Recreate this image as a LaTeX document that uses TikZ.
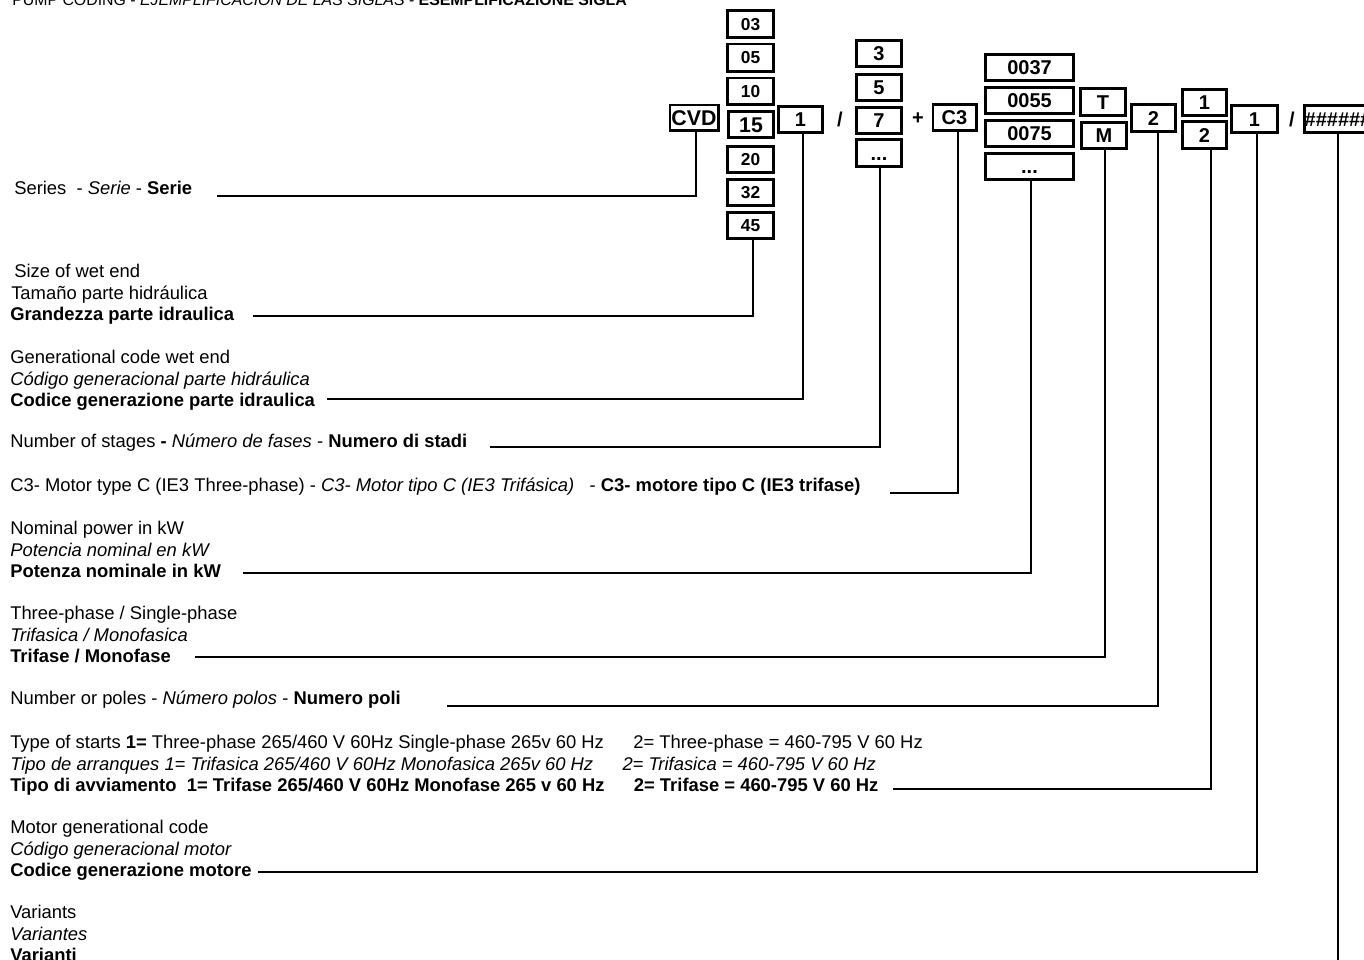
\documentclass[tikz,border=0pt]{standalone}
\usepackage{fontspec}
\setmainfont{Liberation Sans}
\usetikzlibrary{calc}
\tikzset{
  cbox/.style={draw, line width=2pt, inner sep=0pt, font=\bfseries\fontsize{15}{18}\selectfont, text height=10.75pt, text depth=0pt},
  smallbox/.style={cbox, font=\bfseries\fontsize{13}{15}\selectfont, text height=9.3pt},
  bigbox/.style={cbox, font=\bfseries\fontsize{16}{19}\selectfont, text height=11.5pt},
  bx/.style 2 args={minimum width=#1, minimum height=#2},
  sym/.style={inner sep=0pt, font=\bfseries\fontsize{15}{18}\selectfont},
  lbl/.style={anchor=base west, inner sep=0pt, font=\fontsize{13.8}{16}\selectfont},
  conn/.style={line width=1.9pt}
}
\begin{document}
\begin{tikzpicture}[x=0.75pt, y=-0.75pt]
\useasboundingbox (0,0) rectangle (1364,960);
% title (cut at the top)
\node[anchor=base west, inner sep=0pt, font=\fontsize{11.9}{14}\selectfont] (title) at (12,5)
  {PUMP CODING - \textit{EJEMPLIFICACION DE LAS SIGLAS} - \textbf{ESEMPLIFICAZIONE SIGLA}};
% code boxes
\node[smallbox, bx={34.75pt}{20.5pt}] (b03) at (750.5,24) {03};
\node[smallbox, bx={34.75pt}{20.5pt}] (b05) at (750.5,57.5) {05};
\node[smallbox, bx={34.75pt}{19.75pt}] (b10) at (750.5,91) {10};
\node[bigbox, bx={34pt}{19.75pt}] (b15) at (751,124.5) {15};
\node[smallbox, bx={34.75pt}{19.75pt}] (b20) at (750.5,159.5) {20};
\node[smallbox, bx={34.75pt}{19.75pt}] (b32) at (750.5,192.5) {32};
\node[smallbox, bx={34.75pt}{19.75pt}] (b45) at (750.5,225.5) {45};
\node[bigbox, bx={36.25pt}{19pt}] (cvd) at (694,117.5) {CVD};
\node[cbox, bx={33.25pt}{19.75pt}] (gen) at (800.5,119.5) {1};
\node[sym] (sl1) at (840,119) {/};
\node[cbox, bx={34pt}{19.75pt}] (s3) at (879,53.5) {3};
\node[cbox, bx={34pt}{19.75pt}] (s5) at (879,87.5) {5};
\node[cbox, bx={34pt}{19.75pt}] (s7) at (879,120.5) {7};
\node[cbox, bx={34pt}{20.5pt}] (sdots) at (879,153) {...};
\node[sym] (plus) at (918,119) {+};
\node[cbox, bx={32.5pt}{19.75pt}] (c3) at (954.5,117.5) {C3};
\node[cbox, bx={66.25pt}{19.75pt}] (p37) at (1029.5,67.5) {0037};
\node[cbox, bx={66.25pt}{19.75pt}] (p55) at (1029.5,100.5) {0055};
\node[cbox, bx={66.25pt}{19.75pt}] (p75) at (1029.5,133.5) {0075};
\node[cbox, bx={66.25pt}{19.75pt}] (pdots) at (1029.5,166.5) {...};
\node[cbox, bx={34pt}{20.5pt}] (pt) at (1103,102) {T};
\node[cbox, bx={34pt}{19.75pt}] (pm) at (1104,135.5) {M};
\node[cbox, bx={33.25pt}{20.5pt}] (poles) at (1153.5,118) {2};
\node[cbox, bx={33.25pt}{19.75pt}] (st1) at (1204.5,102.5) {1};
\node[cbox, bx={33.25pt}{20.5pt}] (st2) at (1204.5,135) {2};
\node[cbox, bx={34.75pt}{20.5pt}] (mg) at (1254.5,119) {1};
\node[sym] (sl2) at (1292,119) {/};
\node[cbox, bx={49.5pt}{20.5pt}] (var) at (1338,119) {\#\#\#\#\#\#};
% labels
\node[lbl] (lser) at (14,194.5) {Series\ \ - \textit{Serie} - \textbf{Serie}};
\node[lbl] (lsz1) at (14,277.5) {Size of wet end};
\node[lbl] (lsz2) at (11,299) {Tamaño parte hidráulica};
\node[lbl] (lsz3) at (10,320.5) {\textbf{Grandezza parte idraulica}};
\node[lbl] (lgn1) at (10,363.5) {Generational code wet end};
\node[lbl] (lgn2) at (10,385) {\textit{Código generacional parte hidráulica}};
\node[lbl] (lgn3) at (10,406.5) {\textbf{Codice generazione parte idraulica}};
\node[lbl] (lstg) at (10,447.5) {Number of stages \textbf{-} \textit{Número de fases} - \textbf{Numero di stadi}};
\node[lbl] (lc3) at (10,491.5) {C3- Motor type C (IE3 Three-phase) - \textit{C3- Motor tipo C (IE3 Trifásica)}\ \ \ - \textbf{C3- motore tipo C (IE3 trifase)}};
\node[lbl] (lnm1) at (10,534.5) {Nominal power in kW};
\node[lbl] (lnm2) at (10,556) {\textit{Potencia nominal en kW}};
\node[lbl] (lnm3) at (10,577.5) {\textbf{Potenza nominale in kW}};
\node[lbl] (lph1) at (10,619.5) {Three-phase / Single-phase};
\node[lbl] (lph2) at (10,641) {\textit{Trifasica / Monofasica}};
\node[lbl] (lph3) at (10,662.5) {\textbf{Trifase / Monofase}};
\node[lbl] (lpol) at (10,704) {Number or poles - \textit{Número polos} - \textbf{Numero poli}};
\node[lbl] (lst1) at (10,748.5) {Type of starts \textbf{1=} Three-phase 265/460 V 60Hz Single-phase 265v 60 Hz\hspace{22pt}2= Three-phase = 460-795 V 60 Hz};
\node[lbl] (lst2) at (10,770) {\textit{Tipo de arranques 1= Trifasica 265/460 V 60Hz Monofasica 265v 60 Hz\hspace{22pt}2= Trifasica = 460-795 V 60 Hz}};
\node[lbl] (lst3) at (10,791.5) {\textbf{Tipo di avviamento\ \ 1= Trifase 265/460 V 60Hz Monofase 265 v 60 Hz\hspace{22pt}2= Trifase = 460-795 V 60 Hz}};
\node[lbl] (lmo1) at (10,833.5) {Motor generational code};
\node[lbl] (lmo2) at (10,855) {\textit{Código generacional motor}};
\node[lbl] (lmo3) at (10,876.5) {\textbf{Codice generazione motore}};
\node[lbl] (lva1) at (10,918.5) {Variants};
\node[lbl] (lva2) at (10,940) {\textit{Variantes}};
\node[lbl] (lva3) at (10,961.5) {\textbf{Varianti}};
% connector ends
\coordinate (eser) at (217,196);
\coordinate (esz) at (253,316);
\coordinate (egn) at (327,399);
\coordinate (estg) at (490,447);
\coordinate (ec3) at (890,493);
\coordinate (enm) at (243,573);
\coordinate (eph) at (195,657);
\coordinate (epol) at (447,706);
\coordinate (est) at (893,789);
\coordinate (emo) at (258,872);
\coordinate (eva) at (1338,965);
% connectors
\draw[conn] ($(cvd.south)+(2,0)$) |- (eser);
\draw[conn] ($(b45.south)+(2.5,0)$) |- (esz);
\draw[conn] ($(gen.south)+(2.5,0)$) |- (egn);
\draw[conn] ($(sdots.south)+(1,0)$) |- (estg);
\draw[conn] ($(c3.south)+(3.5,0)$) |- (ec3);
\draw[conn] ($(pdots.south)+(1.5,0)$) |- (enm);
\draw[conn] ($(pm.south)+(1,0)$) |- (eph);
\draw[conn] ($(poles.south)+(4.5,0)$) |- (epol);
\draw[conn] ($(st2.south)+(6.5,0)$) |- (est);
\draw[conn] ($(mg.south)+(2.5,0)$) |- (emo);
\draw[conn] (var.south) -- (eva);
\end{tikzpicture}
\end{document}
